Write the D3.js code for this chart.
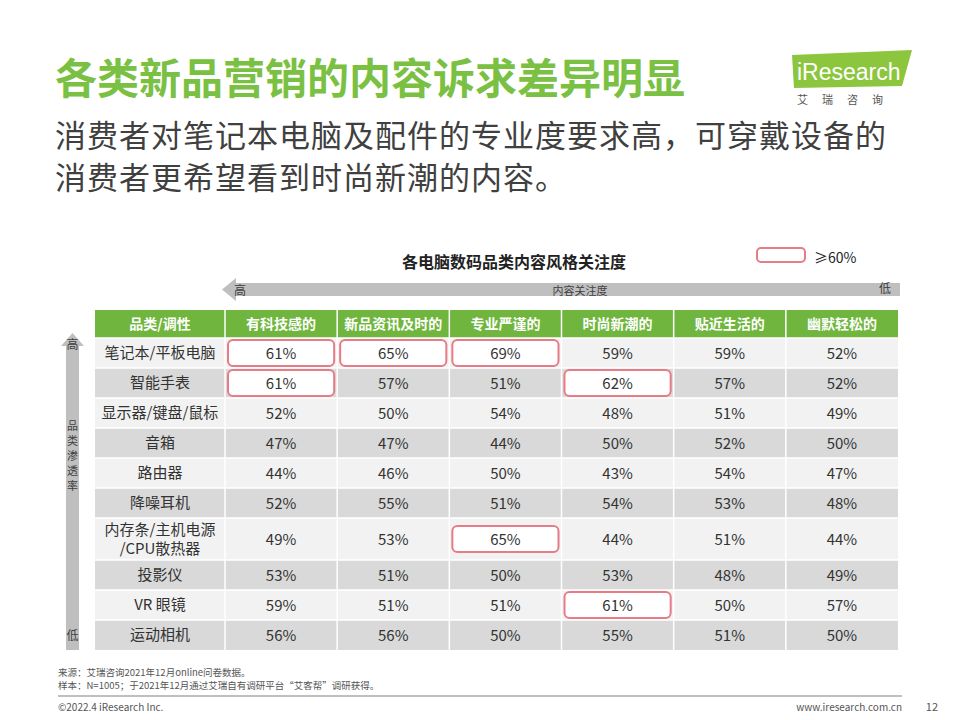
<!DOCTYPE html><html><head><meta charset="utf-8"><script src="https://cdn.jsdelivr.net/npm/d3@7"></script>
<style>body{margin:0;background:#fff}svg{font-family:"Noto Sans CJK SC","Noto Sans",sans-serif}</style></head><body><svg id="c" width="960" height="720"></svg><script>
const columns=["有科技感的","新品资讯及时的","专业严谨的","时尚新潮的","贴近生活的","幽默轻松的"];
const categories=["笔记本/平板电脑","智能手表","显示器/键盘/鼠标","音箱","路由器","降噪耳机","内存条/主机电源\n/CPU散热器","投影仪","VR 眼镜","运动相机"];
const values=[[61,65,69,59,59,52],[61,57,51,62,57,52],[52,50,54,48,51,49],[47,47,44,50,52,50],[44,46,50,43,54,47],[52,55,51,54,53,48],[49,53,65,44,51,44],[53,51,50,53,48,49],[59,51,51,61,50,57],[56,56,50,55,51,50]];
const threshold=60;
const svg=d3.select("#c");
svg.append("text").attr("x",55).attr("y",94).attr("font-size",42).attr("font-weight",700).attr("fill","#7ac143").text("各类新品营销的内容诉求差异明显");
svg.append("text").attr("x",55).attr("y",147).attr("font-size",31).attr("letter-spacing",1).attr("fill","#404040").text("消费者对笔记本电脑及配件的专业度要求高，可穿戴设备的");
svg.append("text").attr("x",55).attr("y",189).attr("font-size",31).attr("letter-spacing",1).attr("fill","#404040").text("消费者更希望看到时尚新潮的内容。");
svg.append("path").attr("d","M792,55 L912,50 L902,86 L794,88 Z").attr("fill","#8cc63f");
svg.append("text").attr("x",797).attr("y",80).attr("font-size",23).attr("fill","#fff").attr("font-family","Liberation Sans,Arial").text("iResearch");
svg.append("text").attr("x",797).attr("y",104).attr("font-size",11).attr("fill","#555").attr("letter-spacing",14).text("艾瑞咨询");
svg.append("text").attr("x",514).attr("y",268).attr("text-anchor","middle").attr("font-size",16).attr("font-weight",700).attr("fill","#222").text("各电脑数码品类内容风格关注度");
svg.append("rect").attr("x",757).attr("y",248).attr("width",48).attr("height",14).attr("rx",4).attr("fill","#fff").attr("stroke","#e57c86").attr("stroke-width",2);
svg.append("text").attr("x",814).attr("y",263).attr("font-size",14).attr("fill","#222").text("≥60%");
svg.append("rect").attr("x",232).attr("y",283).attr("width",668).attr("height",13).attr("fill","#bfbfbf");
svg.append("path").attr("d","M222,289.5 L236,278 L236,301 Z").attr("fill","#bfbfbf");
svg.append("text").attr("x",234).attr("y",295).attr("font-size",12).attr("fill","#404040").text("高");
svg.append("text").attr("x",580).attr("y",295).attr("text-anchor","middle").attr("font-size",11).attr("fill","#404040").text("内容关注度");
svg.append("text").attr("x",879).attr("y",293).attr("font-size",12).attr("fill","#404040").text("低");
svg.append("rect").attr("x",66).attr("y",345).attr("width",13).attr("height",305).attr("fill","#bfbfbf");
svg.append("path").attr("d","M72.5,333 L61,346 L84,346 Z").attr("fill","#bfbfbf");
svg.append("text").attr("x",72.5).attr("y",349).attr("text-anchor","middle").attr("font-size",12).attr("fill","#404040").text("高");
["品","类","渗","透","率"].forEach((ch,i)=>svg.append("text").attr("x",72.5).attr("y",430+i*15).attr("text-anchor","middle").attr("font-size",11).attr("fill","#404040").text(ch));
svg.append("text").attr("x",72.5).attr("y",640).attr("text-anchor","middle").attr("font-size",12).attr("fill","#404040").text("低");
const x0=95,firstW=130,xEnd=898,headTop=310,headH=28;
const x=d3.scaleBand().domain(columns).range([x0+firstW,xEnd]);
const heights=categories.map(c=>c.includes("\n")?42:30);
const tops=[];let acc=headTop+headH;heights.forEach(h=>{tops.push(acc);acc+=h;});
const g=svg.append("g");
g.append("rect").attr("x",x0).attr("y",headTop).attr("width",xEnd-x0).attr("height",headH).attr("fill","#70b63e");
const hdr=["品类/调性",...columns];
const colX=[x0,...columns.map(c=>x(c))],colW=[firstW,...columns.map(()=>x.bandwidth())];
hdr.forEach((h,i)=>g.append("text").attr("x",colX[i]+colW[i]/2).attr("y",headTop+19).attr("text-anchor","middle").attr("font-size",14).attr("font-weight",700).attr("fill","#fff").text(h));
categories.forEach((c,r)=>{
  const fill=r%2===0?"#f2f2f2":"#d9d9d9";
  for(let i=0;i<7;i++) g.append("rect").attr("x",colX[i]).attr("y",tops[r]).attr("width",colW[i]).attr("height",heights[r]).attr("fill",fill);
  const lines=c.split("\n");
  lines.forEach((l,k)=>g.append("text").attr("x",x0+firstW/2).attr("y",tops[r]+heights[r]/2+5+(k-(lines.length-1)/2)*19).attr("text-anchor","middle").attr("font-size",15).attr("fill","#333").text(l));
  values[r].forEach((v,j)=>{
    const cx=x(columns[j]);
    if(v>=threshold) g.append("rect").attr("x",cx+3).attr("y",tops[r]+heights[r]/2-13).attr("width",x.bandwidth()-6).attr("height",26).attr("rx",5).attr("fill","#fff").attr("stroke","#e57c86").attr("stroke-width",2);
    g.append("text").attr("x",cx+x.bandwidth()/2).attr("y",tops[r]+heights[r]/2+5.5).attr("text-anchor","middle").attr("font-size",15).attr("fill","#333").text(v+"%");
  });
});
colX.slice(1).forEach(cx=>g.append("line").attr("x1",cx).attr("x2",cx).attr("y1",headTop).attr("y2",acc).attr("stroke","#fff").attr("stroke-width",1.5));
tops.forEach(t=>g.append("line").attr("x1",x0).attr("x2",xEnd).attr("y1",t).attr("y2",t).attr("stroke","#fff").attr("stroke-width",1.5));
svg.append("text").attr("x",58).attr("y",676).attr("font-size",9.5).attr("fill","#555").text("来源：艾瑞咨询2021年12月online问卷数据。");
svg.append("text").attr("x",58).attr("y",689).attr("font-size",9.5).attr("fill","#555").text("样本：N=1005；于2021年12月通过艾瑞自有调研平台“艾客帮”调研获得。");
svg.append("line").attr("x1",58).attr("x2",902).attr("y1",696).attr("y2",696).attr("stroke","#bfbfbf").attr("stroke-width",2);
svg.append("text").attr("x",58).attr("y",711).attr("font-size",10).attr("fill","#555").text("©2022.4 iResearch Inc.");
svg.append("text").attr("x",902).attr("y",711).attr("text-anchor","end").attr("font-size",10).attr("fill","#555").text("www.iresearch.com.cn");
svg.append("text").attr("x",938).attr("y",711).attr("text-anchor","end").attr("font-size",11).attr("fill","#555").text("12");
</script></body></html>
